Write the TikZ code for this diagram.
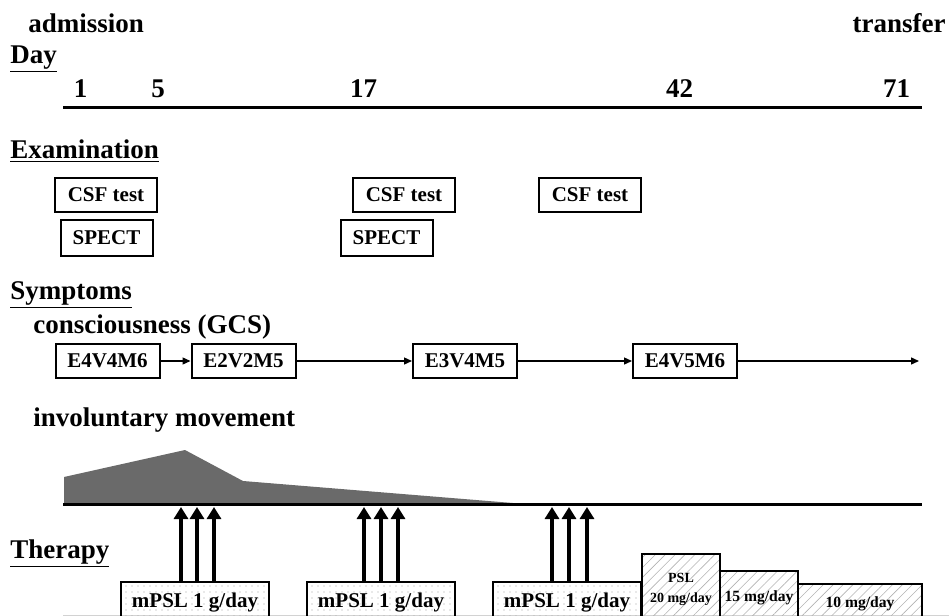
\documentclass[tikz,border=0pt]{standalone}
\usepackage{fontspec}
\setmainfont{Liberation Serif}
\usepackage{tikz}
\usetikzlibrary{positioning,arrows.meta,patterns.meta}

\definecolor{imgray}{RGB}{106,106,106}

\begin{document}
\begin{tikzpicture}[
  x=0.5pt, y=-0.5pt,
  head/.style={font=\fontsize{13.5}{16}\selectfont\bfseries,anchor=base west,inner sep=0pt},
  daynum/.style={font=\fontsize{13.5}{16}\selectfont\bfseries,anchor=base,inner sep=0pt},
  exbox/.style={draw,line width=1pt,font=\fontsize{10.5}{12}\selectfont\bfseries,
              minimum width=51pt,minimum height=17pt,inner sep=0pt},
  gcsbox/.style={exbox,minimum width=52pt},
  mpsl/.style={draw,line width=1pt,font=\fontsize{10.5}{12}\selectfont\bfseries,
              minimum width=74pt,minimum height=21pt,inner sep=0pt,
              pattern={Dots[distance=3pt,radius=0.3pt]},pattern color=gray!75},
  psl/.style={draw,line width=1pt,font=\fontsize{7.8}{9}\selectfont\bfseries,align=center,
              minimum width=39pt,inner sep=0pt,
              pattern={Lines[angle=45,distance=3.5pt,line width=0.3pt]},pattern color=gray!60},
  ar/.style={-{Triangle[length=4pt,width=3.5pt]},line width=0.7pt},
  pulse/.style={-{Triangle[length=6pt,width=7pt]},line width=2pt},
  axis/.style={line width=1.5pt}
]
\clip (0,0) rectangle (949,616);

%% ---- admission, transfer and the day axis --------------------------------
\node[head]                  (adm) at (28,32)  {admission};
\node[head,anchor=base east] (trf) at (946,32) {transfer};
\node[head]                  (day) at (10,63)  {\underline{Day}};
\foreach \x/\d in {80.5/1, 158/5, 363.5/17, 679.5/42, 896.5/71}
  \node[daynum] (d\d) at (\x,97) {\d};
\coordinate (ax0) at (63,107);
\coordinate (ax1) at (922,107);
\draw[axis] (ax0) -- (ax1);

%% ---- examination ----------------------------------------------------------
\node[head]  (exam) at (10,158)   {\underline{Examination}};
\node[exbox] (csf1) at (106,194.5) {CSF test};
\node[exbox] (csf2) at (404,194.5) {CSF test};
\node[exbox] (csf3) at (590,194.5) {CSF test};
\node[exbox,minimum width=46pt,minimum height=18pt] (spe1) at (106.5,238) {SPECT};
\node[exbox,minimum width=46pt,minimum height=18pt] (spe2) at (386.5,238) {SPECT};

%% ---- symptoms: GCS chain ---------------------------------------------------
\node[head]   (sym) at (10,299) {\underline{Symptoms}};
\node[head]   (gcs) at (33,333) {consciousness (GCS)};
\node[gcsbox] (g1)  at (107.5,361) {E4V4M6};
\node[gcsbox] (g2)  at (243.5,361) {E2V2M5};
\node[gcsbox] (g3)  at (465,361)   {E3V4M5};
\node[gcsbox] (g4)  at (685,361)   {E4V5M6};
\coordinate (gend) at (919,361);
\foreach \a/\b in {g1/g2, g2/g3, g3/g4, g4/gend} \draw[ar] (\a) -- (\b);

%% ---- involuntary movement ---------------------------------------------------
\node[head] (inv) at (33,426) {involuntary movement};
\fill[imgray] (64,504) -- (64,477) -- (185,450) -- (243,481) -- (525,504) -- cycle;
\coordinate (bl0) at (63,504);
\coordinate (bl1) at (922,504);
\draw[axis] (bl0) -- (bl1);

%% ---- therapy ------------------------------------------------------------------
\node[head] (thr) at (10,558) {\underline{Therapy}};
\draw[gray!35,line width=0.5pt] (63,615.5) -- (949,615.5);
\node[mpsl] (mp1) at (195,603) {mPSL 1 g/day};
\node[mpsl] (mp2) at (381,603) {mPSL 1 g/day};
\node[mpsl] (mp3) at (567,603) {mPSL 1 g/day};
\node[psl,minimum height=35pt,font=\fontsize{7}{10}\selectfont\bfseries]
            (p20) at (681,589)   {PSL\\20 mg/day};
\node[psl,minimum height=26.5pt] (p15) at (759,597.5) {15 mg/day};
\node[psl,minimum height=20pt,minimum width=62pt] (p10) at (860,604) {10 mg/day};

% pulses up to the baseline
\foreach \b/\x in {mp1/181, mp1/197, mp1/214, mp2/364, mp2/381, mp2/398,
                   mp3/552, mp3/569, mp3/587} {
  \coordinate (t\x) at (\x,507);
  \draw[pulse] (\b.north -| t\x) -- (t\x);
}
\end{tikzpicture}
\end{document}
